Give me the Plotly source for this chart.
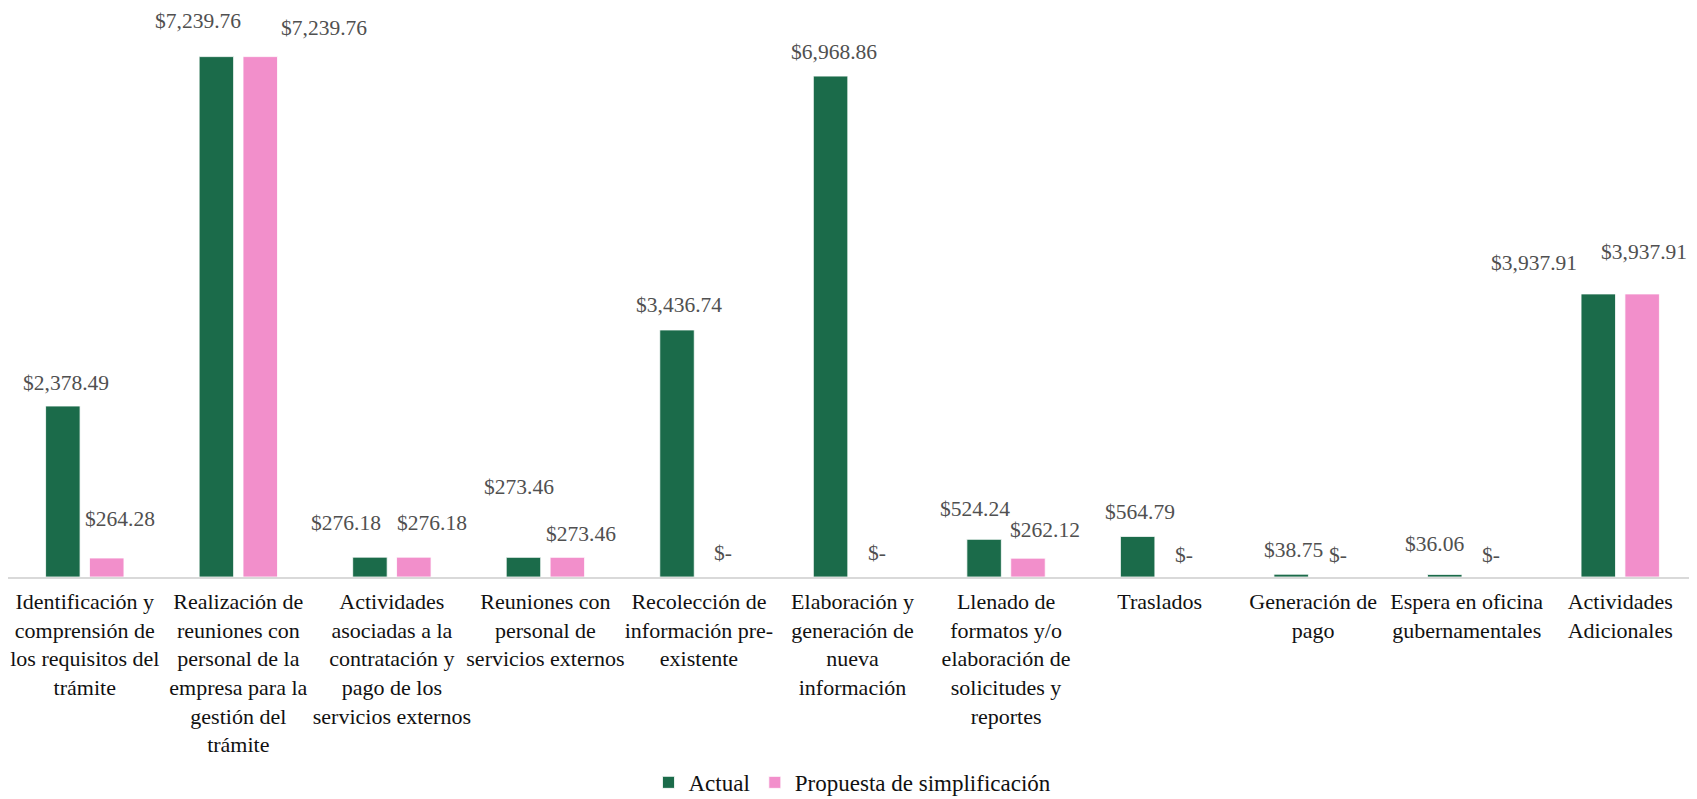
import plotly.graph_objects as go

categories = [
    "Identificación y<br>comprensión de<br>los requisitos del<br>trámite",
    "Realización de<br>reuniones con<br>personal de la<br>empresa para la<br>gestión del<br>trámite",
    "Actividades<br>asociadas a la<br>contratación y<br>pago de los<br>servicios externos",
    "Reuniones con<br>personal de<br>servicios externos",
    "Recolección de<br>información pre-<br>existente",
    "Elaboración y<br>generación de<br>nueva<br>información",
    "Llenado de<br>formatos y/o<br>elaboración de<br>solicitudes y<br>reportes",
    "Traslados",
    "Generación de<br>pago",
    "Espera en oficina<br>gubernamentales",
    "Actividades<br>Adicionales",
]
actual = [2378.49, 7239.76, 276.18, 273.46, 3436.74, 6968.86, 524.24, 564.79, 38.75, 36.06, 3937.91]
propuesta = [264.28, 7239.76, 276.18, 273.46, 0, 0, 262.12, 0, 0, 0, 3937.91]

series_names = ["Actual", "Propuesta de simplificación"]

# label pixel offsets (dx from category centre, dy above bar top)
actual_label_dx = [-19, -40.5, -45.5, -26, -19.5, -19, -31, -20, -19.5, -32.5, -86.5]
actual_label_dy = [23, 36, 34, 70, 25, 24.3, 30.7, 24.6, 24, 30.8, 31.3]
prop_label_dx = [35.5, 86, 40.5, 36, 24, 24, 38.5, 24, 24.8, 24.8, 23.5]
prop_label_dy = [38.7, 28.6, 34, 23.7, 23.7, 24, 27.7, 22, 22, 22, 41.7]

GREEN = "#1B6B4A"
PINK = "#F28FCB"
FONT = "Liberation Serif, Tinos, Times New Roman, DejaVu Serif, serif"


def fmt(v):
    return "$-" if v == 0 else "${:,.2f}".format(v)


fig = go.Figure()
fig.add_trace(go.Bar(
    x=categories, y=actual, name=series_names[0],
    marker=dict(color=GREEN, line=dict(color="white", width=0.8)),
    width=0.2246, offset=-0.2552,
))
fig.add_trace(go.Bar(
    x=categories, y=propuesta, name=series_names[1],
    marker=dict(color=PINK, line=dict(color="white", width=0.8)),
    width=0.2246, offset=0.0306,
))

annotations = []
for cat, v, dx, dy in zip(categories, actual, actual_label_dx, actual_label_dy):
    annotations.append(dict(x=cat, y=v, xref="x", yref="y", text=fmt(v), showarrow=False,
                            xshift=dx, yshift=dy, xanchor="center", yanchor="middle",
                            font=dict(family=FONT, size=21.5, color="#505050")))
for cat, v, dx, dy in zip(categories, propuesta, prop_label_dx, prop_label_dy):
    annotations.append(dict(x=cat, y=v, xref="x", yref="y", text=fmt(v), showarrow=False,
                            xshift=dx, yshift=dy, xanchor="center", yanchor="middle",
                            font=dict(family=FONT, size=21.5, color="#505050")))

fig.update_layout(
    width=1689, height=791,
    margin=dict(l=0, r=0, t=0, b=222, autoexpand=False),
    barmode="overlay",
    plot_bgcolor="white", paper_bgcolor="white",
    font=dict(family=FONT, size=22, color="#111111"),
    showlegend=True,
    legend=dict(orientation="h", x=0.5, xanchor="center", y=-0.361, yanchor="middle",
                font=dict(family=FONT, size=23, color="#111111"), itemwidth=30),
    annotations=annotations,
    xaxis=dict(range=[-0.5, 10.5], showline=True, linecolor="#D9D9D9", linewidth=1.5,
               showgrid=False, ticks="outside", tickcolor="rgba(0,0,0,0)", ticklen=4,
               tickfont=dict(family=FONT, size=22, color="#111111"), tickangle=0),
    yaxis=dict(range=[0, 7916], visible=False, showgrid=False),
)

fig.write_html("out.html")
